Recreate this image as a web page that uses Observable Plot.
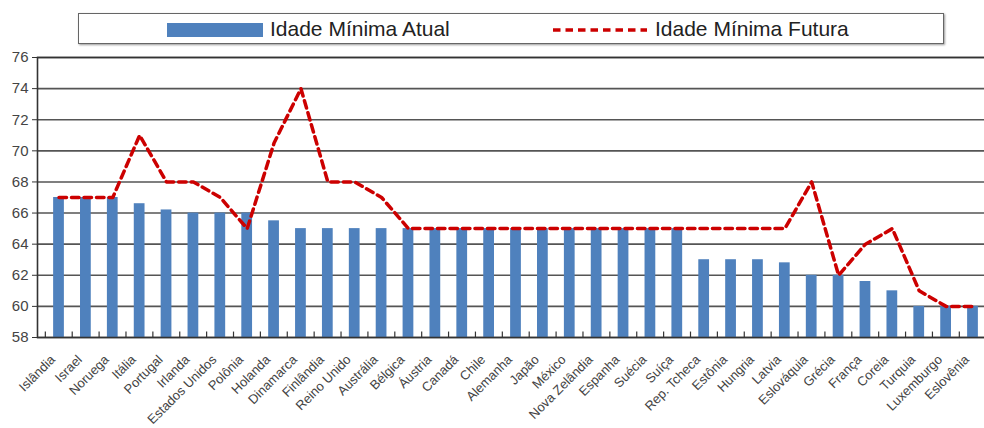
<!DOCTYPE html>
<html><head><meta charset="utf-8">
<script src="https://cdn.jsdelivr.net/npm/d3@7"></script>
<script src="https://cdn.jsdelivr.net/npm/@observablehq/plot@0.6"></script>
<style>
html,body{margin:0;padding:0;background:#fff;overflow:hidden;width:984px;height:428px}
#legend{position:relative;height:40px;font-family:"Liberation Sans",Arial,sans-serif;color:#222;z-index:0}
#legend .box{position:absolute;left:78px;top:13px;width:866px;height:31px;border:1px solid #666;box-shadow:1px 1px 2px #999;box-sizing:border-box;background:#fff}
#legend .item{position:absolute;top:13px;height:31px;line-height:31px;font-size:21px;white-space:nowrap}
#legend svg{vertical-align:middle}
#chart{position:relative;z-index:1}
</style>
</head><body>
<div id="legend"><div class="box"></div></div>
<div id="chart"></div>
<script>
const paises = ["Islândia","Israel","Noruega","Itália","Portugal","Irlanda","Estados Unidos","Polônia","Holanda","Dinamarca","Finlândia","Reino Unido","Austrália","Bélgica","Áustria","Canadá","Chile","Alemanha","Japão","México","Nova Zelândia","Espanha","Suécia","Suíça","Rep. Tcheca","Estônia","Hungria","Latvia","Eslováquia","Grécia","França","Coreia","Turquia","Luxemburgo","Eslovênia"];
const idadeAtual = [67,67,67,66.6,66.2,66,66,66,65.5,65,65,65,65,65,65,65,65,65,65,65,65,65,65,65,63,63,63,62.8,62,62,61.6,61,60,60,60];
const idadeFutura = [67,67,67,71,68,68,67,65,70.5,74,68,68,67,65,65,65,65,65,65,65,65,65,65,65,65,65,65,65,68,62,64,65,61,60,60];
const yTicks = [58,60,62,64,66,68,70,72,74,76];
const seriesNames = ["Idade Mínima Atual","Idade Mínima Futura"];
const cores = ["#4f81bd","#cc0000"];

// legend
const lg = document.getElementById("legend");
const it1 = document.createElement("div");
it1.className = "item"; it1.style.left = "167px";
it1.innerHTML = `<svg width="96" height="14"><rect width="96" height="14" fill="${cores[0]}"/></svg><span style="margin-left:7px">${seriesNames[0]}</span>`;
lg.appendChild(it1);
const it2 = document.createElement("div");
it2.className = "item"; it2.style.left = "553px";
it2.innerHTML = `<svg width="94" height="14"><line x1="0" x2="94" y1="7" y2="7" stroke="${cores[1]}" stroke-width="3.5" stroke-dasharray="7.5,5"/></svg><span style="margin-left:8px">${seriesNames[1]}</span>`;
lg.appendChild(it2);

const data = paises.map((p,i)=>({pais:p, atual:idadeAtual[i], futura:idadeFutura[i]}));
const step = (984 + 10 - 37) / paises.length;
const plot = Plot.plot({
  width: 984, height: 388,
  marginTop: 17, marginBottom: 91, marginLeft: 37, marginRight: -10,
  style:{fontFamily:"'Liberation Sans', Arial, sans-serif", background:"transparent", overflow:"hidden"},
  x:{domain:paises, padding:0.6, label:null},
  y:{domain:[58,76], label:null},
  marks:[
    Plot.gridY(yTicks,{stroke:"#555", strokeOpacity:1, strokeWidth:1.6}),
    Plot.barY(data,{x:"pais", y1:58, y2:"atual", fill:cores[0]}),
    Plot.ruleX(paises,{x:d=>d, y1:58, y2:58.35, dx:-step/2, stroke:"#333", strokeWidth:1.2}),
    Plot.lineY(data,{x:"pais", y:"futura", stroke:cores[1], strokeWidth:3.5, strokeDasharray:"7.5,5"}),
    Plot.frame({stroke:"#333", strokeWidth:1.6}),
    Plot.axisY(yTicks,{tickSize:5, tickPadding:4, fontSize:15, fill:"#444", stroke:"#333"}),
    Plot.axisX({tickSize:0, tickRotate:-45, tickPadding:8, dx:-6, dy:12, fontSize:13, fill:"#444"})
  ]
});
document.getElementById("chart").appendChild(plot);
</script>
</body></html>
